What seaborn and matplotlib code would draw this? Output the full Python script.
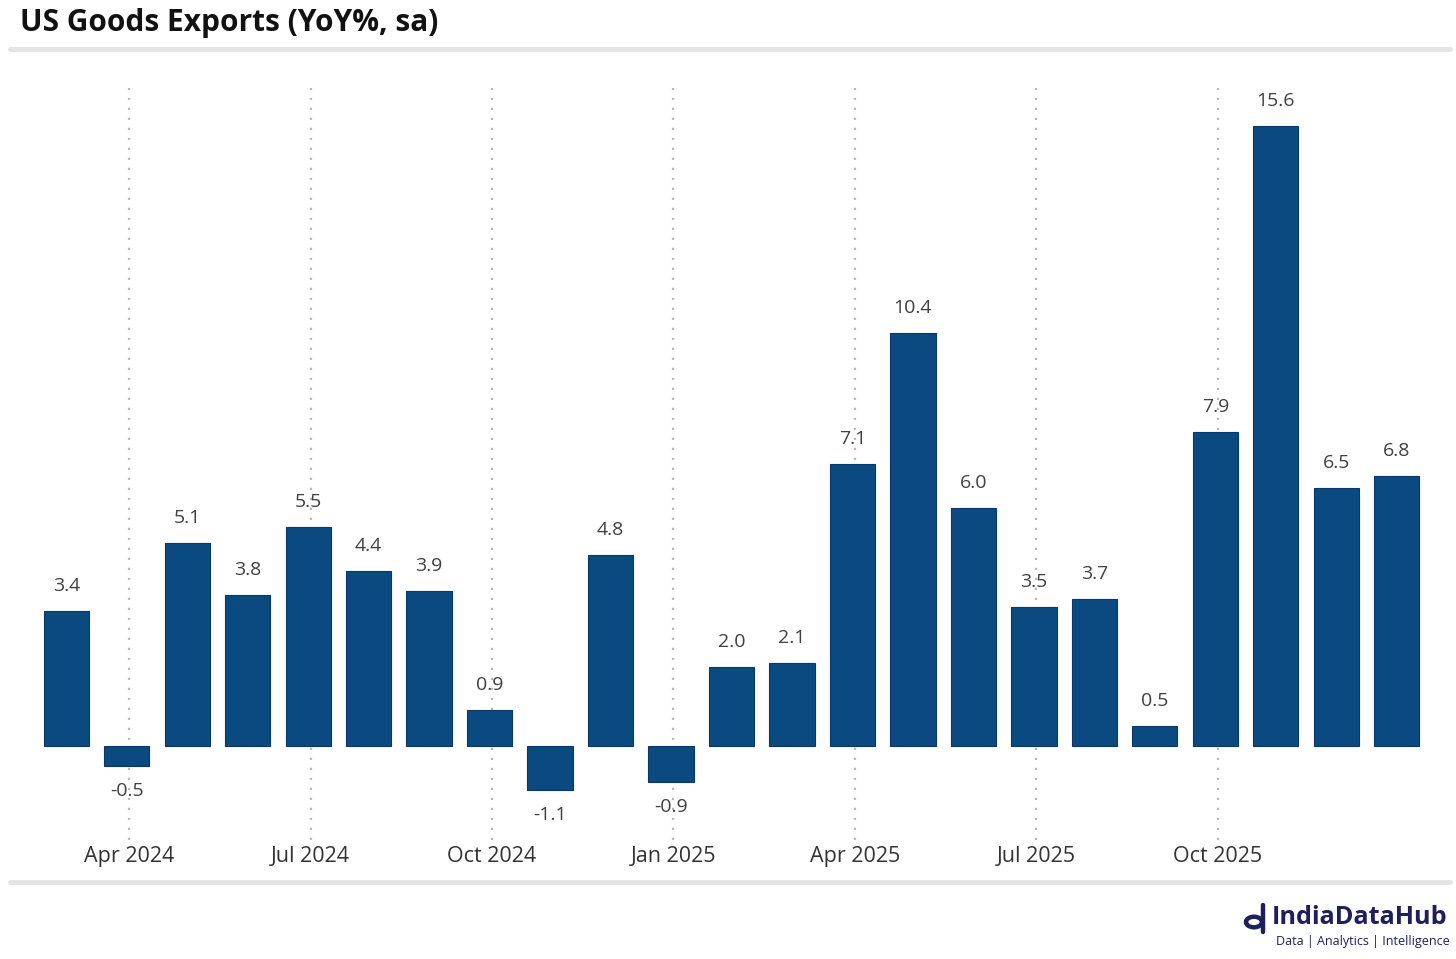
import numpy as np
import pandas as pd
import matplotlib.pyplot as plt
import matplotlib.patches as mpatches
import seaborn as sns

# monthly data, Mar 2024 - Jan 2026
months = ['Mar 2024', 'Apr 2024', 'May 2024', 'Jun 2024', 'Jul 2024', 'Aug 2024',
          'Sep 2024', 'Oct 2024', 'Nov 2024', 'Dec 2024', 'Jan 2025', 'Feb 2025',
          'Mar 2025', 'Apr 2025', 'May 2025', 'Jun 2025', 'Jul 2025', 'Aug 2025',
          'Sep 2025', 'Oct 2025', 'Nov 2025', 'Dec 2025', 'Jan 2026']
yoy = [3.4, -0.5, 5.1, 3.8, 5.5, 4.4, 3.9, 0.9, -1.1, 4.8, -0.9, 2.0,
       2.1, 7.1, 10.4, 6.0, 3.5, 3.7, 0.5, 7.9, 15.6, 6.5, 6.8]
tick_labels = ['Apr 2024', 'Jul 2024', 'Oct 2024', 'Jan 2025',
               'Apr 2025', 'Jul 2025', 'Oct 2025']

df = pd.DataFrame({'month': months, 'yoy': yoy})

sns.set_theme(style='white')
plt.rcParams['font.family'] = ['Open Sans', 'DejaVu Sans']

fig = plt.figure(figsize=(14.56, 9.59), dpi=100)
W, H = 1456, 959
ax = fig.add_axes([30 / W, 1 - 840 / H, (1433 - 30) / W, (840 - 88) / H])

bar_col = '#0b4a80'
sns.barplot(data=df, x='month', y='yoy', color=bar_col, width=0.75,
            saturation=1, edgecolor='#08386a', linewidth=0.8, ax=ax, zorder=3)

ax.set_xlim(-0.6, len(months) - 0.4)
ax.set_ylim(-2.365, 16.56)

# quarterly dotted gridlines
tick_pos = [months.index(t) + 0.04 for t in tick_labels]
for p in tick_pos:
    ax.axvline(p, color='#b8b8b8', linestyle=(0, (1, 3.5)), linewidth=1.6, zorder=1)
ax.set_xticks(tick_pos)
ax.set_xticklabels(tick_labels, fontsize=15.5, color='#333333')
ax.tick_params(axis='x', length=0, pad=4)
ax.set_yticks([])
ax.set_xlabel('')
ax.set_ylabel('')
for s in ax.spines.values():
    s.set_visible(False)

# value labels
for i, v in enumerate(yoy):
    off = 18 if v >= 0 else -18
    ax.annotate(f'{v:.1f}', (i, v), xytext=(0, off), textcoords='offset points',
                ha='center', va='center', fontsize=14, color='#404040')

# title and separators
fig.text(20 / W, 1 - 23 / H, 'US Goods Exports (YoY%, sa)', fontsize=21.5,
         fontweight='bold', color='#111111', va='center', ha='left')
fig.add_artist(plt.Line2D([10 / W, 1450 / W], [1 - 49 / H, 1 - 49 / H],
                          color='#e4e4e4', linewidth=3.5))
fig.add_artist(plt.Line2D([10 / W, 1450 / W], [1 - 882 / H, 1 - 882 / H],
                          color='#e4e4e4', linewidth=3.5))

# logo
navy = '#1f1f5c'
fig.add_artist(mpatches.Circle((1254 / W, 1 - 922 / H), 8 / W, transform=fig.transFigure,
                               fill=False, edgecolor=navy, linewidth=3.2))
fig.add_artist(plt.Line2D([1263 / W, 1263 / W], [1 - 905 / H, 1 - 932 / H],
                          color=navy, linewidth=3.2))
fig.text(1272 / W, 1 - 918 / H, 'IndiaDataHub', fontsize=18.2, fontweight='bold',
         color=navy, va='center', ha='left')
fig.text(1276 / W, 1 - 941 / H, 'Data | Analytics | Intelligence', fontsize=9.0,
         color=navy, va='center', ha='left')

plt.savefig('out.png', dpi=100)
